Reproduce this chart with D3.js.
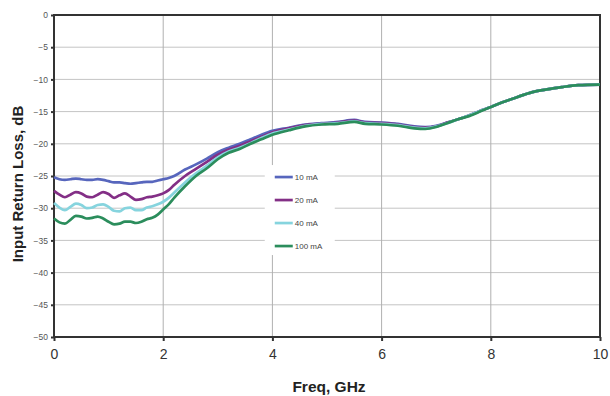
<!DOCTYPE html>
<html>
<head>
<meta charset="utf-8">
<script src="https://cdn.jsdelivr.net/npm/d3@7"></script>
<style>
  body { margin: 0; background: #fff; }
  svg { display: block; font-family: Arial, "Liberation Sans", sans-serif; }
</style>
</head>
<body>
<div id="chart"></div>
<script>
// Frequency points, GHz
const freq = [0, 0.1, 0.2, 0.3, 0.4, 0.5, 0.6, 0.7, 0.8, 0.9, 1.0, 1.1, 1.2, 1.3, 1.4, 1.5, 1.6, 1.7, 1.8, 1.9,
  2.0, 2.1, 2.2, 2.4, 2.6, 2.8, 3.0, 3.2, 3.4, 3.6, 3.8, 4.0, 4.3, 4.6, 4.9, 5.2, 5.5, 5.7, 6.0, 6.3,
  6.6, 6.8, 7.0, 7.2, 7.4, 7.6, 7.8, 8.0, 8.2, 8.4, 8.6, 8.8, 9.0, 9.3, 9.6, 10.0];

// Input return loss, dB, per bias current
const loss10 = [-25.2, -25.5, -25.6, -25.5, -25.4, -25.5, -25.6, -25.6, -25.5, -25.6, -25.8, -26.0, -26.0, -26.1, -26.2, -26.1, -26.0, -25.9, -25.9, -25.7,
  -25.5, -25.3, -25.0, -24.0, -23.2, -22.3, -21.3, -20.6, -20.0, -19.3, -18.6, -18.0, -17.5, -17.0, -16.8, -16.6, -16.3, -16.6, -16.7, -16.9,
  -17.3, -17.4, -17.2, -16.7, -16.2, -15.6, -14.9, -14.3, -13.6, -13.0, -12.4, -11.9, -11.6, -11.2, -10.9, -10.8];
const loss20 = [-27.3, -27.9, -28.3, -27.9, -27.5, -27.7, -28.2, -28.3, -27.9, -27.5, -27.8, -28.4, -28.0, -27.7, -28.2, -28.7, -28.6, -28.3, -28.2, -28.0,
  -27.7, -27.2, -26.4, -25.0, -23.9, -22.8, -21.7, -20.9, -20.3, -19.6, -18.9, -18.2, -17.6, -17.1, -16.9, -16.7, -16.4, -16.7, -16.8, -17.0,
  -17.4, -17.5, -17.3, -16.7, -16.2, -15.6, -14.9, -14.3, -13.6, -13.0, -12.4, -11.9, -11.6, -11.2, -10.9, -10.8];
const loss40 = [-29.2, -29.9, -30.3, -29.8, -29.3, -29.5, -30.0, -29.9, -29.5, -29.4, -29.8, -30.4, -30.5, -30.0, -29.9, -30.3, -30.3, -29.9, -29.7, -29.4,
  -29.0, -28.4, -27.6, -26.0, -24.6, -23.4, -22.1, -21.2, -20.6, -19.9, -19.1, -18.4, -17.8, -17.2, -16.9, -16.8, -16.5, -16.8, -16.9, -17.1,
  -17.5, -17.6, -17.3, -16.8, -16.2, -15.6, -14.9, -14.3, -13.6, -13.0, -12.4, -11.9, -11.6, -11.2, -10.9, -10.8];
const loss100 = [-31.6, -32.2, -32.4, -31.8, -31.2, -31.3, -31.6, -31.5, -31.3, -31.6, -32.1, -32.5, -32.4, -32.1, -32.1, -32.3, -32.1, -31.7, -31.5, -31.0,
  -30.2, -29.4, -28.4, -26.6, -25.0, -23.8, -22.4, -21.4, -20.8, -20.0, -19.3, -18.6, -17.9, -17.3, -17.0, -16.9, -16.6, -16.9, -17.0, -17.2,
  -17.6, -17.7, -17.4, -16.8, -16.2, -15.7, -15.0, -14.3, -13.6, -13.0, -12.4, -11.9, -11.6, -11.2, -10.9, -10.8];

const seriesNames = ['10 mA', '20 mA', '40 mA', '100 mA'];
const seriesValues = [loss10, loss20, loss40, loss100];
const seriesColors = ['#5766bd', '#832f86', '#86d4de', '#2b8d5c'];

const xTicks = [0, 2, 4, 6, 8, 10];
const yTicks = [0, -5, -10, -15, -20, -25, -30, -35, -40, -45, -50];

const width = 610, height = 396;
const margin = { top: 15, right: 10, bottom: 59, left: 54 };
const plotW = width - margin.left - margin.right;
const plotH = height - margin.top - margin.bottom;

const svg = d3.select('#chart')
  .append('svg')
  .attr('width', width)
  .attr('height', height);

const g = svg.append('g')
  .attr('transform', `translate(${margin.left},${margin.top})`);

const x = d3.scaleLinear().domain([0, 10]).range([0, plotW]);
const y = d3.scaleLinear().domain([-50, 0]).range([plotH, 0]);

// Gridlines
g.append('g')
  .selectAll('line')
  .data(yTicks.slice(1, -1))
  .enter()
  .append('line')
  .attr('x1', 0).attr('x2', plotW)
  .attr('y1', d => y(d)).attr('y2', d => y(d))
  .attr('stroke', '#c4c4c4')
  .attr('stroke-width', 1);

g.append('g')
  .selectAll('line')
  .data(xTicks.slice(1, -1))
  .enter()
  .append('line')
  .attr('x1', d => x(d)).attr('x2', d => x(d))
  .attr('y1', 0).attr('y2', plotH)
  .attr('stroke', '#b0b0b0')
  .attr('stroke-width', 1);

// Frame
g.append('rect')
  .attr('width', plotW)
  .attr('height', plotH)
  .attr('fill', 'none')
  .attr('stroke', '#333')
  .attr('stroke-width', 2);

// Axes
const xAxis = g.append('g')
  .attr('transform', `translate(0,${plotH})`)
  .call(d3.axisBottom(x).tickValues(xTicks).tickSize(4).tickPadding(8));
xAxis.select('.domain').remove();
xAxis.selectAll('line').attr('stroke', '#333').attr('stroke-width', 2);
xAxis.selectAll('text').style('font-size', '14px').style('fill', '#333');

const yAxis = g.append('g')
  .call(d3.axisLeft(y).tickValues(yTicks).tickSize(3).tickPadding(3));
yAxis.select('.domain').remove();
yAxis.selectAll('line').attr('stroke', '#333').attr('stroke-width', 2);
yAxis.selectAll('text').style('font-size', '8.5px').style('fill', '#555');

// Lines
const line = d3.line()
  .x((d, i) => x(freq[i]))
  .y(d => y(d))
  .curve(d3.curveMonotoneX);

seriesValues.forEach((vals, i) => {
  g.append('path')
    .datum(vals)
    .attr('fill', 'none')
    .attr('stroke', seriesColors[i])
    .attr('stroke-width', 2.7)
    .attr('stroke-linejoin', 'round')
    .attr('d', line);
});

// Legend
const legend = g.append('g')
  .attr('transform', `translate(${x(3.86)},${y(-23.3)})`);

legend.append('rect')
  .attr('width', 70)
  .attr('height', 90)
  .attr('fill', '#fff');

seriesNames.forEach((name, i) => {
  const item = legend.append('g')
    .attr('transform', `translate(0,${12 + i * 23})`);
  item.append('line')
    .attr('x1', 10).attr('x2', 28)
    .attr('stroke', seriesColors[i])
    .attr('stroke-width', 2.7);
  item.append('text')
    .attr('x', 30)
    .attr('y', 3)
    .style('font-size', '8px')
    .style('fill', '#444')
    .text(name);
});

// Axis titles
svg.append('text')
  .attr('x', margin.left + plotW / 2 + 2)
  .attr('y', 392)
  .attr('text-anchor', 'middle')
  .style('font-size', '15.5px')
  .style('font-weight', 'bold')
  .style('fill', '#222')
  .text('Freq, GHz');

svg.append('text')
  .attr('transform', `translate(23,${margin.top + plotH / 2 + 8}) rotate(-90)`)
  .attr('text-anchor', 'middle')
  .style('font-size', '15px')
  .style('font-weight', 'bold')
  .style('fill', '#222')
  .text('Input Return Loss, dB');
</script>
</body>
</html>
